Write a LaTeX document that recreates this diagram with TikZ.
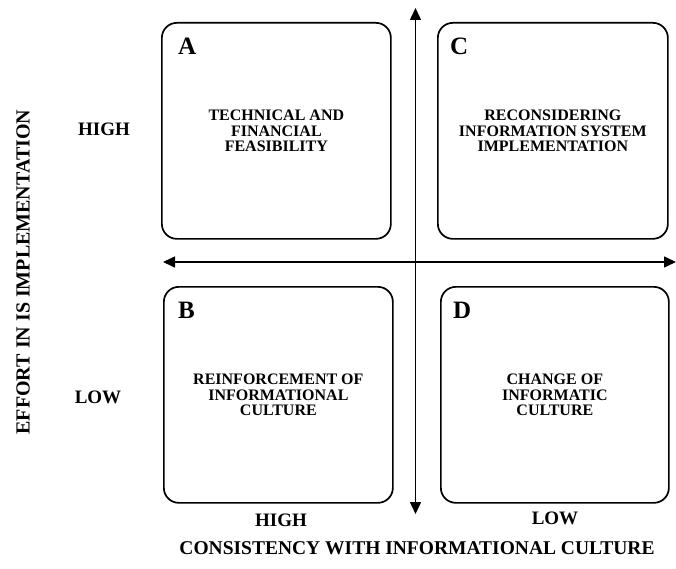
\documentclass[tikz,border=0pt]{standalone}
\usepackage{fontspec}
\setmainfont{Liberation Serif}
\usetikzlibrary{arrows.meta}
\begin{document}
\begin{tikzpicture}[x=1pt,y=-1pt,
  quad/.style={draw, line width=1.7pt, rounded corners=15pt, minimum height=216pt, anchor=north west, inner sep=0pt},
  quadletter/.style={font=\bfseries\fontsize{25}{25}\selectfont, inner sep=0pt, anchor=base west},
  quadtext/.style={font=\bfseries\fontsize{16}{15.5}\selectfont, align=center, inner sep=0pt},
  axislabel/.style={font=\bfseries\fontsize{19}{19}\selectfont, inner sep=0pt},
  axis/.style={line width=1.5pt, {Triangle[width=11pt,length=12pt]}-{Triangle[width=11pt,length=12pt]}}
]
\fill[white] (0,0) rectangle (676,569);
\useasboundingbox (0,0) rectangle (676,569);

% four quadrants
\node[quad, minimum width=229pt] (A) at (161,22) {};
\node[quad, minimum width=230pt] (C) at (437,22) {};
\node[quad, minimum width=229pt] (B) at (163,286) {};
\node[quad, minimum width=228pt] (D) at (440,286) {};

% quadrant letters
\node[quadletter] (lA) at ([xshift=17pt,yshift=-33pt]A.north west) {A};
\node[quadletter] (lC) at ([xshift=13pt,yshift=-33pt]C.north west) {C};
\node[quadletter] (lB) at ([xshift=15pt,yshift=-32pt]B.north west) {B};
\node[quadletter] (lD) at ([xshift=13pt,yshift=-32pt]D.north west) {D};

% quadrant contents
\node[quadtext] (tA) at (A.center) {TECHNICAL AND\\FINANCIAL\\FEASIBILITY};
\node[quadtext] (tC) at (C.center) {RECONSIDERING\\INFORMATION SYSTEM\\IMPLEMENTATION};
\node[quadtext] (tB) at (B.center) {REINFORCEMENT OF\\INFORMATIONAL\\CULTURE};
\node[quadtext] (tD) at (D.center) {CHANGE OF\\INFORMATIC\\CULTURE};

% axes
\coordinate (top) at (415.5,8);
\coordinate (bottom) at (415.5,514);
\coordinate (left) at (163,262);
\coordinate (right) at (676,262);
\draw[axis] (top) -- (bottom);
\draw[axis] (left) -- (right);

% axis labels
\node[axislabel] (yhigh) at (104,129) {HIGH};
\node[axislabel] (ylow) at (98,397) {LOW};
\node[axislabel] (xhigh) at (281,520) {HIGH};
\node[axislabel] (xlow) at (555,518) {LOW};
\node[axislabel, font=\bfseries\fontsize{20}{20}\selectfont, rotate=90] (ytitle) at (23,272) {EFFORT IN IS IMPLEMENTATION};
\node[axislabel, font=\bfseries\fontsize{19.5}{19.5}\selectfont] (xtitle) at (417,548) {CONSISTENCY WITH INFORMATIONAL CULTURE};
\end{tikzpicture}
\end{document}
